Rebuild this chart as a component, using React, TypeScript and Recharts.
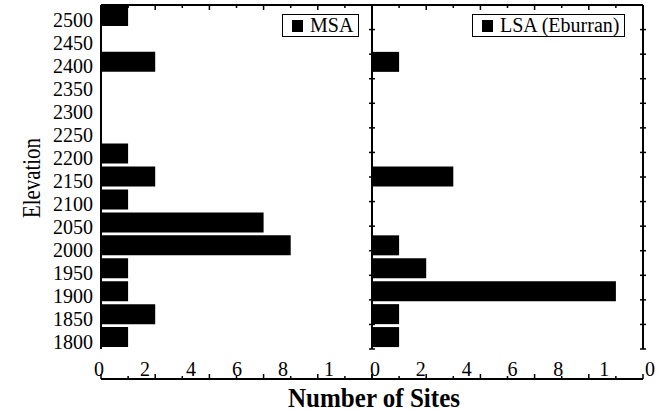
import { BarChart, Bar, XAxis, YAxis, Legend } from 'recharts';

// elevation classes, top to bottom
const elevations = ['2500', '2450', '2400', '2350', '2300', '2250', '2200', '2150', '2100', '2050', '2000', '1950', '1900', '1850', '1800'];
const msaSites = [1, 0, 2, 0, 0, 0, 1, 2, 1, 6, 7, 1, 1, 2, 1];
const lsaSites = [0, 0, 1, 0, 0, 0, 0, 3, 0, 0, 1, 2, 9, 1, 1];

// tick labels as printed under each panel
const msaTickLabels = ['0', '2', '4', '6', '8', '1'];
const lsaTickLabels = ['0', '2', '4', '6', '8', '1', '0'];

const valueTicks = [0, 1, 2, 3, 4, 5, 6, 7, 8, 9, 10];
const bandEdges = elevations.slice(1).map((_, i) => i + 1);

const rows = elevations.map((e, i) => ({ elevation: e, msa: msaSites[i], lsa: lsaSites[i] }));

const FONT = 'Liberation Serif';
const AXIS_LINE = { stroke: '#000', strokeWidth: 2 };

function BottomTick({ x, y, payload }: any) {
    const len = payload.value % 2 === 0 ? 5 : 3;
    return <line x1={x} x2={x} y1={y} y2={y - len} stroke="#000" strokeWidth={1.5} />;
}

function TopTick({ x, y, payload }: any) {
    const len = payload.value % 2 === 0 ? 5 : 3;
    return <line x1={x} x2={x} y1={y} y2={y + len} stroke="#000" strokeWidth={1.5} />;
}

function EdgeTick({ x, y }: any) {
    return <line x1={x - 3} x2={x + 3} y1={y} y2={y} stroke="#000" strokeWidth={1.5} />;
}

function ElevTick({ x, y, payload }: any) {
    return (
        <text x={x} y={y + 4} textAnchor="end" dominantBaseline="central" fontFamily={FONT} fontSize={20} fill="#000">
            {payload.value}
        </text>
    );
}

function NumTick({ x, y, payload, labels }: any) {
    return (
        <text x={x} y={y} dy="0.71em" textAnchor="middle" fontFamily={FONT} fontSize={20} fill="#000">
            {labels[payload.value]}
        </text>
    );
}

function LegendBox({ payload }: any) {
    const item = payload && payload[0];
    return (
        <div style={{
            display: 'inline-flex', alignItems: 'center', border: '1px solid #000', background: '#fff',
            height: 21, padding: '0 5px 0 9px', fontFamily: FONT, fontSize: 20, color: '#000', lineHeight: '21px',
        }}>
            <span style={{ display: 'inline-block', width: 11, height: 12, background: '#000', marginRight: 7 }} />
            {item ? item.value : ''}
        </div>
    );
}

interface PanelProps {
    series: 'msa' | 'lsa';
    name: string;
    width: number;
    showElevations: boolean;
    marginRight: number;
    tickLabels: string[];
    labelPadding: { left: number; right: number };
    legendLeft: number;
}

function Panel({ series, name, width, showElevations, marginRight, tickLabels, labelPadding, legendLeft }: PanelProps) {
    return (
        <BarChart
            width={width}
            height={413}
            data={rows}
            layout="vertical"
            margin={{ top: 0, right: marginRight, bottom: 33, left: 0 }}
            barCategoryGap={0}
            style={{ fontFamily: FONT }}
        >
            <YAxis
                yAxisId="cat"
                type="category"
                dataKey="elevation"
                width={showElevations ? 101 : 6}
                axisLine={AXIS_LINE}
                tickLine={false}
                tickSize={0}
                tickMargin={8}
                interval={0}
                tick={showElevations ? <ElevTick /> : false}
            />
            <YAxis
                yAxisId="edges"
                type="number"
                orientation="right"
                domain={[0, 15]}
                allowDataOverflow
                ticks={bandEdges}
                width={6}
                axisLine={AXIS_LINE}
                tickLine={false}
                tickSize={0}
                tickMargin={0}
                interval={0}
                tick={<EdgeTick />}
            />
            <XAxis
                xAxisId="top"
                type="number"
                orientation="top"
                domain={[0, 10]}
                allowDataOverflow
                ticks={valueTicks}
                height={5}
                axisLine={AXIS_LINE}
                tickLine={false}
                tickSize={0}
                tickMargin={0}
                interval={0}
                tick={<TopTick />}
            />
            <XAxis
                xAxisId="val"
                type="number"
                domain={[0, 10]}
                allowDataOverflow
                ticks={valueTicks}
                height={1}
                axisLine={AXIS_LINE}
                tickLine={false}
                tickSize={0}
                tickMargin={0}
                interval={0}
                tick={<BottomTick />}
            />
            <XAxis
                xAxisId="labels"
                type="number"
                domain={[0, tickLabels.length - 1]}
                allowDataOverflow
                ticks={tickLabels.map((_, i) => i)}
                padding={labelPadding}
                height={30}
                axisLine={false}
                tickLine={false}
                tickSize={0}
                tickMargin={13}
                interval={0}
                tick={<NumTick labels={tickLabels} />}
            />
            <Legend
                layout="horizontal"
                align="center"
                verticalAlign="middle"
                wrapperStyle={{ top: 14, left: legendLeft, width: 'auto', height: 'auto' }}
                content={<LegendBox />}
            />
            <Bar
                dataKey={series}
                name={name}
                xAxisId="val"
                yAxisId="cat"
                fill="#000"
                barSize={20}
                isAnimationActive={false}
            />
        </BarChart>
    );
}

export default function App() {
    return (
        <div style={{ position: 'absolute', left: 0, top: 0, width: 668, height: 413, background: '#fff', fontFamily: FONT }}>
            <div style={{ position: 'absolute', left: 0, top: 0 }}>
                <Panel
                    series="msa"
                    name="MSA"
                    width={378}
                    showElevations
                    marginRight={0}
                    tickLabels={msaTickLabels}
                    labelPadding={{ left: -2, right: 43 }}
                    legendLeft={282}
                />
            </div>
            <div style={{ position: 'absolute', left: 366, top: 0 }}>
                <Panel
                    series="lsa"
                    name="LSA (Eburran)"
                    width={302}
                    showElevations={false}
                    marginRight={19}
                    tickLabels={lsaTickLabels}
                    labelPadding={{ left: 3, right: -7 }}
                    legendLeft={106}
                />
            </div>
            <svg width={668} height={413} style={{ position: 'absolute', left: 0, top: 0, pointerEvents: 'none' }}>
                <text
                    transform="translate(40 178) rotate(-90)"
                    textAnchor="middle"
                    fontFamily={FONT}
                    fontSize={25}
                    textLength={80}
                    lengthAdjust="spacingAndGlyphs"
                    fill="#000"
                >
                    Elevation
                </text>
                <text
                    x={374}
                    y={407}
                    textAnchor="middle"
                    fontFamily={FONT}
                    fontSize={28}
                    fontWeight="bold"
                    textLength={172}
                    lengthAdjust="spacingAndGlyphs"
                    fill="#000"
                >
                    Number of Sites
                </text>
            </svg>
        </div>
    );
}
